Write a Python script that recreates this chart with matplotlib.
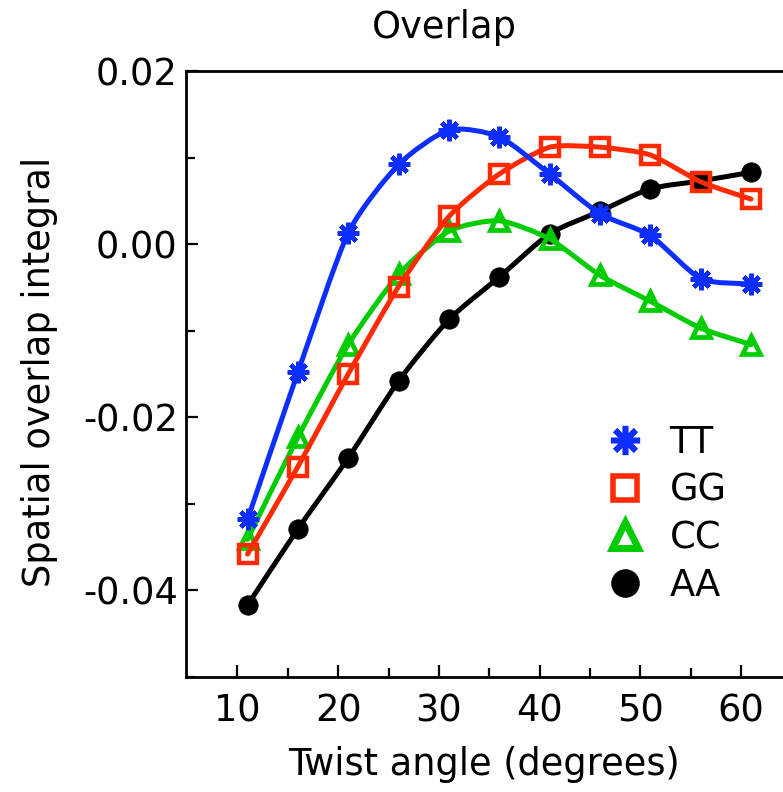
import matplotlib
matplotlib.use("Agg")
import matplotlib.pyplot as plt
from matplotlib.path import Path
from matplotlib.patches import PathPatch
from matplotlib.lines import Line2D
from matplotlib.ticker import FixedLocator, StrMethodFormatter

plt.rcParams['font.family'] = ['DejaVu Sans']
plt.rcParams['axes.unicode_minus'] = False

# Twist angle (degrees)
angles = [11, 16, 21, 26, 31, 36, 41, 46, 51, 56, 61]

# Spatial overlap integral for each base-pair step
tt = [-0.0318, -0.0148, 0.0013, 0.0092, 0.0132, 0.0124, 0.0081, 0.0035, 0.0010, -0.0040, -0.0046]
gg = [-0.0358, -0.0257, -0.0150, -0.0049, 0.0032, 0.0081, 0.0112, 0.0112, 0.0103, 0.0072, 0.0052]
cc = [-0.0341, -0.0223, -0.0116, -0.0035, 0.0015, 0.0027, 0.0006, -0.0036, -0.0066, -0.0097, -0.0116]
aa = [-0.0417, -0.0329, -0.0247, -0.0158, -0.0087, -0.0038, 0.0012, 0.0038, 0.0064, 0.0073, 0.0083]

labels = ["TT", "GG", "CC", "AA"]
colors = ["#0c2eff", "#ff2a00", "#00cc00", "#000000"]

FS = 26.5

fig = plt.figure(figsize=(7.83, 7.92), dpi=100)
ax = fig.add_axes([186 / 783, 1 - 677 / 792, 1 - 186 / 783, (677 - 71) / 792])


def smooth_path(xs, ys, k=0.11):
    """Gently rounded curve through the points, built from cubic Bezier segments."""
    pts = list(zip(xs, ys))
    n = len(pts)
    verts = [pts[0]]
    codes = [Path.MOVETO]
    for i in range(n - 1):
        p0 = pts[i - 1] if i > 0 else pts[i]
        p1 = pts[i]
        p2 = pts[i + 1]
        p3 = pts[i + 2] if i + 2 < n else pts[i + 1]
        c1 = (p1[0] + (p2[0] - p0[0]) * k, p1[1] + (p2[1] - p0[1]) * k)
        c2 = (p2[0] - (p3[0] - p1[0]) * k, p2[1] - (p3[1] - p1[1]) * k)
        verts += [c1, c2, p2]
        codes += [Path.CURVE4] * 3
    return Path(verts, codes)


LW = 3.6
series = [
    (aa, colors[3], dict(marker='o', ms=14, mfc=colors[3], mec=colors[3], mew=0.5)),
    (cc, colors[2], dict(marker='^', ms=13.5, mfc='none', mec=colors[2], mew=3.4)),
    (gg, colors[1], dict(marker='s', ms=12.5, mfc='none', mec=colors[1], mew=3.2)),
    (tt, colors[0], dict(marker=(8, 2, 0), ms=15.5, mfc=colors[0], mec=colors[0], mew=3.2)),
]
for z, (vals, col, mk) in enumerate(series):
    ax.add_patch(PathPatch(smooth_path(angles, vals), fill=False, edgecolor=col,
                           lw=LW, zorder=2 + z, capstyle='round', joinstyle='round'))
    ax.plot(angles, vals, ls='none', zorder=2 + z, **mk)

ax.set_xlim(4.89, 64.17)
ax.set_ylim(-0.05, 0.02)

ax.xaxis.set_major_locator(FixedLocator([10, 20, 30, 40, 50, 60]))
ax.xaxis.set_minor_locator(FixedLocator([15, 25, 35, 45, 55]))
ax.yaxis.set_major_locator(FixedLocator([-0.04, -0.02, 0.0, 0.02]))
ax.yaxis.set_minor_locator(FixedLocator([-0.05, -0.03, -0.01, 0.01]))
ax.yaxis.set_major_formatter(StrMethodFormatter('{x:.2f}'))

ax.tick_params(which='both', direction='in', width=1.6, labelsize=FS, colors='black')
ax.tick_params(which='major', length=8.6)
ax.tick_params(which='minor', length=6.5)
ax.tick_params(axis='x', which='major', pad=11)
ax.tick_params(axis='y', which='major', pad=6)

for side in ['left', 'top', 'bottom']:
    ax.spines[side].set_linewidth(2.0)
ax.spines['right'].set_visible(False)

ax.set_xlabel("Twist angle (degrees)", fontsize=FS, labelpad=12)
fig.text(40 / 783, 1 - 372 / 792, "Spatial overlap integral", fontsize=FS,
         rotation=90, ha='center', va='center')
fig.text(444 / 783, 1 - 27 / 792, "Overlap", fontsize=FS, ha='center', va='center')

# Legend with marker-only handles
handles = [
    Line2D([], [], ls='none', marker=(8, 2, 0), ms=21, mfc=colors[0], mec=colors[0], mew=4),
    Line2D([], [], ls='none', marker='s', ms=17, mfc='none', mec=colors[1], mew=4),
    Line2D([], [], ls='none', marker='^', ms=19, mfc='none', mec=colors[2], mew=5),
    Line2D([], [], ls='none', marker='o', ms=20, mfc=colors[3], mec=colors[3], mew=0.5),
]
fig.legend(handles, labels, loc='upper left', bbox_to_anchor=(607 / 783, 1 - 424 / 792),
           frameon=False, fontsize=FS, handlelength=1.0, handletextpad=0.7,
           labelspacing=0.29, borderpad=0, borderaxespad=0, numpoints=1)

fig.savefig("out.png", dpi=100)
